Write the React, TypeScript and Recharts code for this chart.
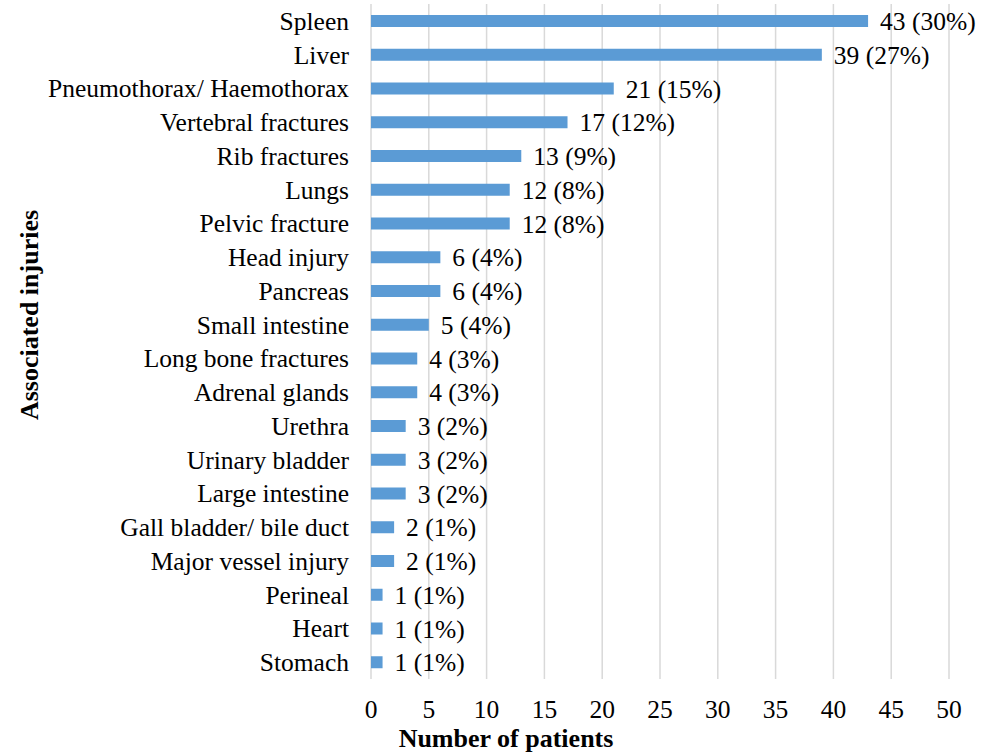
import { Bar, BarChart, CartesianGrid, LabelList, XAxis, YAxis } from 'recharts';

const injuries = [
  'Spleen',
  'Liver',
  'Pneumothorax/ Haemothorax',
  'Vertebral fractures',
  'Rib fractures',
  'Lungs',
  'Pelvic fracture',
  'Head injury',
  'Pancreas',
  'Small intestine',
  'Long bone fractures',
  'Adrenal glands',
  'Urethra',
  'Urinary bladder',
  'Large intestine',
  'Gall bladder/ bile duct',
  'Major vessel injury',
  'Perineal',
  'Heart',
  'Stomach',
];
const patients = [43, 39, 21, 17, 13, 12, 12, 6, 6, 5, 4, 4, 3, 3, 3, 2, 2, 1, 1, 1];
const percents = [30, 27, 15, 12, 9, 8, 8, 4, 4, 4, 3, 3, 2, 2, 2, 1, 1, 1, 1, 1];
const xTicks = [0, 5, 10, 15, 20, 25, 30, 35, 40, 45, 50];

const font = 'Liberation Serif';

const data = injuries.map((name, i) => ({
  name,
  patients: patients[i],
  label: `${patients[i]} (${percents[i]}%)`,
}));

export default function App() {
  return (
    <div style={{ width: 984, height: 755, fontFamily: font }}>
      <style>{`body{margin:0} .recharts-wrapper text{font-family:'Liberation Serif',serif !important}`}</style>
      <BarChart
        width={984}
        height={755}
        data={data}
        layout="vertical"
        margin={{ top: 4, right: 35, bottom: 0, left: 0 }}
        barSize={12}
      >
        <CartesianGrid horizontal={false} stroke="#d9d9d9" strokeWidth={1.5} />
        <XAxis
          type="number"
          domain={[0, 50]}
          ticks={xTicks}
          interval={0}
          axisLine={false}
          tickLine={false}
          tickSize={0}
          tickMargin={21}
          height={76}
          tick={{ fill: '#000', fontSize: 25.5 }}
          label={{
            content: () => (
              <text x={506} y={747} textAnchor="middle" fontSize={26} fontWeight="bold" fill="#000">
                Number of patients
              </text>
            ),
          }}
        />
        <YAxis
          dataKey="name"
          type="category"
          width={371}
          interval={0}
          axisLine={false}
          tickLine={false}
          tickSize={0}
          tickMargin={22}
          tick={{ fill: '#000', fontSize: 25.5 }}
          label={{
            content: () => (
              <text
                x={38}
                y={315}
                transform="rotate(-90 38 315)"
                textAnchor="middle"
                fontSize={26}
                fontWeight="bold"
                fill="#000"
              >
                Associated injuries
              </text>
            ),
          }}
        />
        <Bar dataKey="patients" fill="#5b9bd5" isAnimationActive={false}>
          <LabelList
            dataKey="label"
            position="right"
            offset={12}
            style={{ fill: '#000', fontSize: 25.5 }}
          />
        </Bar>
      </BarChart>
    </div>
  );
}
